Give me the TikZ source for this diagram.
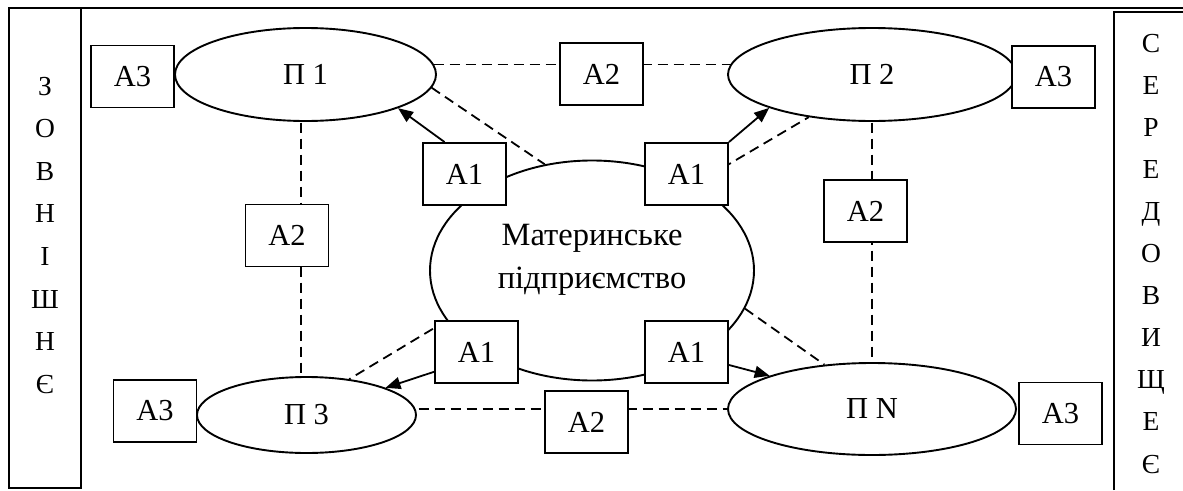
\documentclass[tikz,border=0pt]{standalone}
\usepackage{fontspec}
\setmainfont{Liberation Serif}
\usetikzlibrary{shapes.geometric,arrows.meta}
\pgfdeclarelayer{back}
\pgfsetlayers{back,main}

\begin{document}
\begin{tikzpicture}[x=1pt,y=-1pt,
  firm/.style={ellipse,draw,fill=white,line width=1.9pt,inner sep=0pt,
    font=\fontsize{30.5}{36}\selectfont},
  abox/.style={rectangle,draw,fill=white,line width=1.9pt,inner sep=0pt,
    minimum width=83pt,minimum height=62pt,font=\fontsize{30.5}{36}\selectfont},
  link/.style={line width=1.8pt,dash pattern=on 10pt off 6pt},
  flow/.style={line width=1.8pt,-{Triangle[length=15pt,width=12pt]}},
  frameline/.style={line width=1.9pt},
  vletter/.style={anchor=base,inner sep=0pt,font=\fontsize{27.5}{32}\selectfont}]

\useasboundingbox (0,0) rectangle (1183,490);

% outer frame and the two side columns
\draw[frameline] (9,8) -- (1183,8);
\draw[frameline] (9,8) rectangle (81,488);
\draw[frameline] (1114,490) -- (1114,12) -- (1183,12);

\foreach \ch [count=\i] in {З,О,В,Н,І,Ш,Н,Є}
  \node[vletter] (lv\i) at ({45},{95+42.6*(\i-1)}) {\ch};
\foreach \ch [count=\i] in {С,Е,Р,Е,Д,О,В,И,Щ,Е,Є}
  \node[vletter] (rv\i) at ({1151},{52+42.1*(\i-1)}) {\ch};

% enterprises
\node[firm,minimum width=261pt,minimum height=93pt] (p1) at (305.5,74.5) {П 1};
\node[firm,minimum width=288pt,minimum height=93pt] (p2) at (872,74.5) {П 2};
\node[firm,minimum width=219pt,minimum height=76pt] (p3) at (306.5,415) {П 3};
\node[firm,minimum width=288pt,minimum height=92pt] (pn) at (872,409) {П N};
\node[firm,minimum width=324pt,minimum height=220pt] (m) at (592,270.5) {};
\node[inner sep=0pt,align=center,font=\fontsize{32.5}{43}\selectfont]
  (mtext) at (592,259.6) {Материнське\\підприємство};

% relation boxes
\node[abox] (a3a) at (132.5,76.5) {A3};
\node[abox] (a3b) at (1053.5,77) {A3};
\node[abox] (a3c) at (155,411) {A3};
\node[abox] (a3d) at (1060.5,413.5) {A3};
\node[abox] (a2t) at (601.5,74) {A2};
\node[abox] (a2l) at (287,235.5) {A2};
\node[abox] (a2r) at (865.5,211) {A2};
\node[abox] (a2b) at (586.5,422) {A2};
\node[abox] (a1tl) at (464.5,174) {A1};
\node[abox] (a1tr) at (686.5,174) {A1};
\node[abox] (a1bl) at (476.5,352) {A1};
\node[abox] (a1br) at (686.5,352) {A1};

% dashed links, hidden behind the filled shapes
\begin{pgfonlayer}{back}
  \draw[link] ([yshift=10pt]p1.center) -- ([yshift=10pt]p2.center);
  \draw[link] (p3.center |- pn.center) -- (pn.center);
  \draw[link] ([xshift=-4.5pt]p1.center) -- ([xshift=-4.5pt]p1.center |- p3.center);
  \draw[link] (p2.center) -- (pn.center);
  \draw[link] (p1.-6) -- (m.114);
  \draw[link] (m.40) -- (p2.214);
  \draw[link] (m.199) -- (p3.40);
  \draw[link] (m.-14) -- (pn.137);
\end{pgfonlayer}

% control arrows from the parent enterprise
\draw[flow] (a1tl.122) -- (p1.-20);
\draw[flow] (a1tr.north east) -- (p2.198);
\draw[flow] (a1bl.205) -- (p3.19);
\draw[flow] (a1br.-17) -- (pn.162);
\end{tikzpicture}
\end{document}
